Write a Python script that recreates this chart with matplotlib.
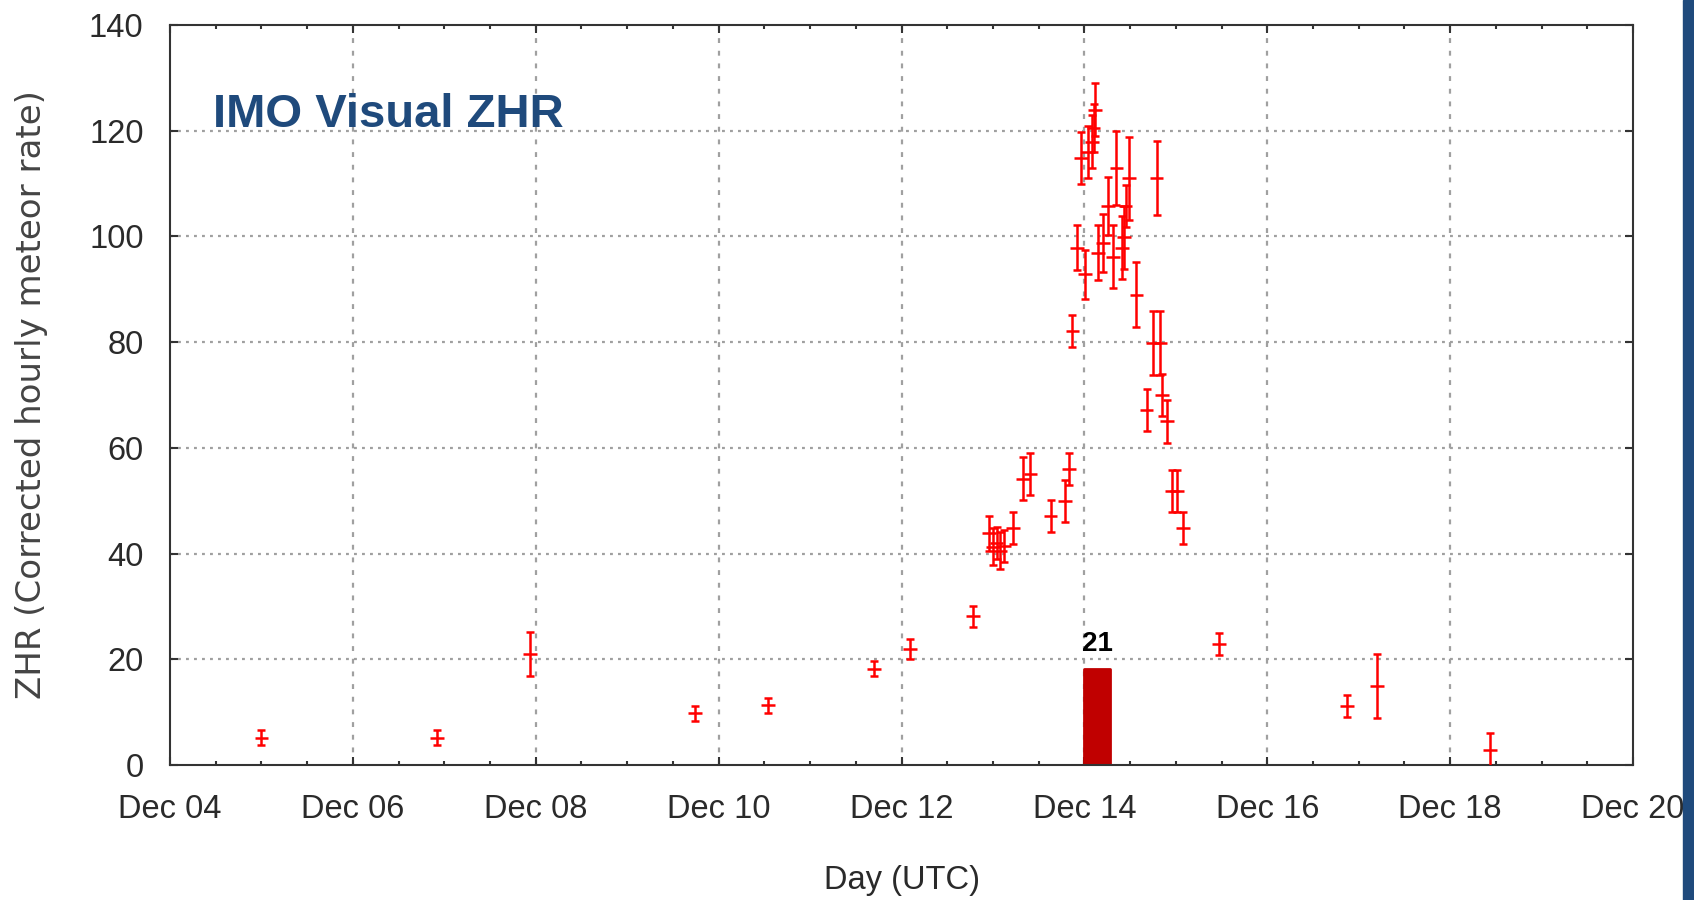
import matplotlib
matplotlib.use("Agg")
import matplotlib.pyplot as plt
from matplotlib import font_manager
from matplotlib.patches import Rectangle

# ---------------------------------------------------------
# data: day of December (UTC), ZHR and its error
# ---------------------------------------------------------
day = [5.00, 6.92, 7.94, 9.74, 10.54, 11.70, 12.09, 12.78, 12.96, 13.00,
       13.04, 13.08, 13.12, 13.22, 13.33, 13.41, 13.63, 13.79, 13.83, 13.87,
       13.92, 13.96, 14.01, 14.04, 14.08, 14.10, 14.12, 14.15, 14.20, 14.26,
       14.31, 14.35, 14.41, 14.43, 14.45, 14.49, 14.57, 14.68, 14.75, 14.79,
       14.83, 14.85, 14.90, 14.955, 15.01, 15.075, 15.47, 16.87, 17.20, 18.44]
zhr = [5.2, 5.2, 21.0, 9.8, 11.3, 18.2, 21.9, 28.1, 43.8, 41.3,
       42.0, 40.5, 41.5, 44.8, 54.2, 55.0, 47.1, 49.9, 56.0, 82.1,
       97.9, 114.8, 92.8, 116.0, 117.9, 120.5, 124.0, 96.9, 98.8, 105.8,
       96.2, 112.9, 97.9, 99.8, 105.8, 111.0, 89.0, 67.2, 79.8, 111.0,
       79.8, 70.0, 65.0, 51.8, 51.8, 44.8, 22.9, 11.2, 14.9, 2.8]
zhr_err = [1.4, 1.4, 4.2, 1.4, 1.4, 1.4, 1.9, 2.0, 3.4, 3.5,
           3.0, 3.5, 3.0, 3.0, 4.0, 4.0, 3.0, 4.0, 3.0, 3.0,
           4.3, 4.9, 4.6, 4.9, 5.0, 4.5, 5.0, 5.2, 5.5, 5.5,
           6.0, 7.0, 6.0, 6.0, 4.0, 7.9, 6.2, 4.0, 6.0, 7.0,
           6.0, 4.0, 4.0, 4.0, 4.0, 3.0, 2.1, 2.1, 6.1, 3.3]
day_err = 0.075

bar_day = 14.0
bar_width = 0.28
bar_height = 18.2
bar_label = "21"

xticks = [4, 6, 8, 10, 12, 14, 16, 18, 20]
xticklabels = ["Dec 04", "Dec 06", "Dec 08", "Dec 10", "Dec 12",
               "Dec 14", "Dec 16", "Dec 18", "Dec 20"]
yticks = [0, 20, 40, 60, 80, 100, 120, 140]

# ---------------------------------------------------------
# fonts: the reference uses a narrow sans for the axis text
# ---------------------------------------------------------
names = {f.name for f in font_manager.fontManager.ttflist}
if "Liberation Sans Narrow" in names:
    tick_font, tick_size = "Liberation Sans Narrow", 26
else:
    tick_font, tick_size = "Liberation Sans", 23.5

blue = "#1F4A7C"
grey = "#A0A0A0"
text_col = "#2A2A2A"

fig = plt.figure(figsize=(16.94, 9.0), dpi=100)
ax = fig.add_axes([170 / 1694, 135 / 900, 1463 / 1694, 740 / 900])

# grid: dashed verticals, dotted horizontals
for x in xticks[1:-1]:
    ax.axvline(x, color=grey, lw=1.6, ls=(0, (2.2, 3.5)), zorder=1)
for y in yticks[1:-1]:
    ax.axhline(y, color=grey, lw=1.6, ls=(0, (1.3, 2.3)), zorder=1)

ax.bar(bar_day, bar_height, width=bar_width, align="edge", color="#C00000",
       edgecolor="#C00000", linewidth=2, joinstyle="round", zorder=2)
ax.text(bar_day + bar_width / 2, bar_height + 3.4, bar_label, ha="center",
        va="baseline", fontsize=20, fontweight="bold", family="Liberation Sans",
        color="black", zorder=4)

ax.errorbar(day, zhr, yerr=zhr_err, fmt="none", ecolor="red", elinewidth=1.8,
            capsize=2.8, capthick=1.8, zorder=3)
ax.errorbar(day, zhr, xerr=day_err, fmt="none", ecolor="red", elinewidth=1.8,
            capsize=0, zorder=3)

ax.set_xlim(4, 20)
ax.set_ylim(0, 140)
ax.set_xticks(xticks)
ax.set_xticklabels(xticklabels)
ax.set_xticks([x + 0.5 * k for x in range(4, 20) for k in (0, 1)], minor=True)
ax.set_yticks(yticks)

ax.tick_params(which="both", direction="in", top=True, right=True,
               width=1.5, color="#333333")
ax.tick_params(which="major", length=6)
ax.tick_params(which="minor", length=3)
ax.tick_params(axis="x", pad=21)
ax.tick_params(axis="y", pad=19)
for lab in ax.get_xticklabels() + ax.get_yticklabels():
    lab.set_family(tick_font)
    lab.set_fontsize(tick_size)
    lab.set_color(text_col)

for sp in ax.spines.values():
    sp.set_linewidth(1.5)
    sp.set_color("#333333")

ax.set_xlabel("Day (UTC)", family=tick_font, fontsize=tick_size,
              color=text_col, va="center")
ax.xaxis.set_label_coords(0.5, -(880 - 765) / 740)
ax.set_ylabel("ZHR (Corrected hourly meteor rate)", family="DejaVu Sans",
              fontsize=24.5, color="#444444", va="center")
ax.yaxis.set_label_coords(-(170 - 32) / 1463, 0.5)

ax.text((213 - 170) / 1463, (765 - 127) / 740, "IMO Visual ZHR",
        transform=ax.transAxes, ha="left", va="baseline", fontsize=34,
        fontweight="bold", family="Liberation Sans", color=blue, zorder=5)

# blue strip at the right edge
fig.patches.append(Rectangle((1683 / 1694, 0), 11 / 1694, 1,
                             transform=fig.transFigure, color=blue))

fig.savefig("out.png", dpi=100)
